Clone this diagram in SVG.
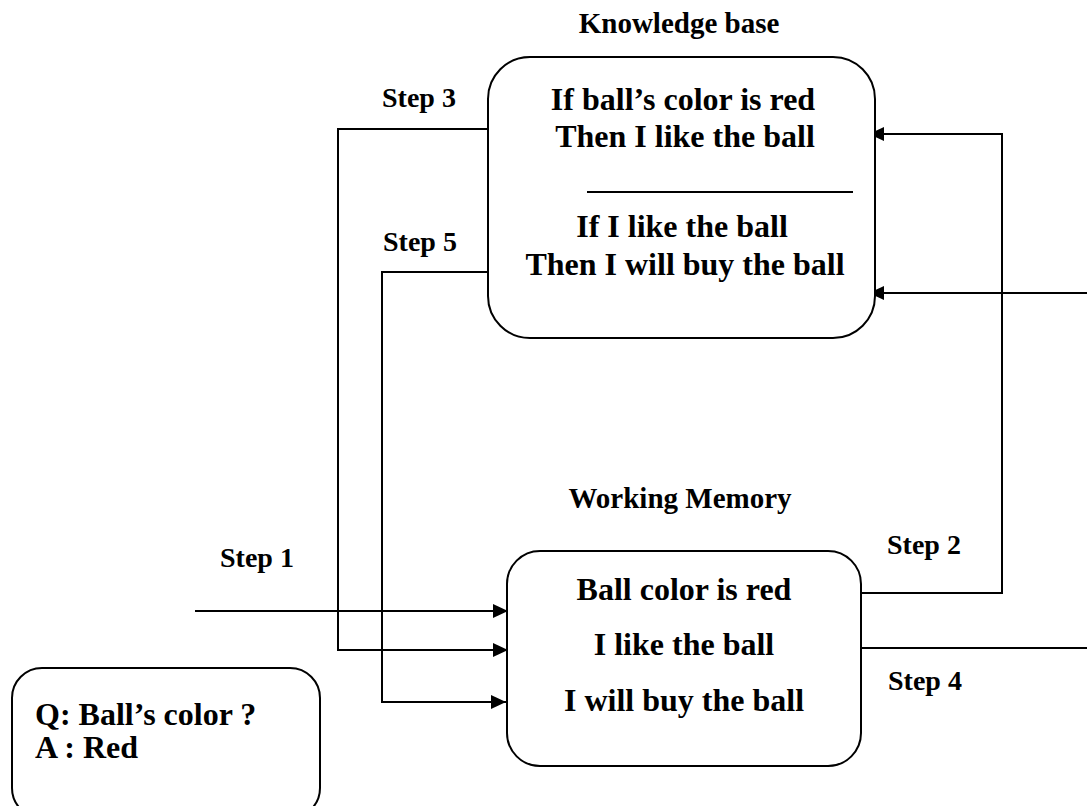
<svg xmlns="http://www.w3.org/2000/svg" width="1087" height="806" viewBox="0 0 1087 806">
<style>
text{font-family:"Liberation Serif","Times New Roman",serif;font-weight:bold;fill:#000}
.t{font-size:32px;text-anchor:middle}
.h{font-size:29px;text-anchor:middle}
.s{font-size:28px}
.q{font-size:32px}
.box{fill:#fff;stroke:#000;stroke-width:2}
.ln{fill:none;stroke:#000;stroke-width:2}
</style>
<defs>
<marker id="ah" markerWidth="16" markerHeight="14" refX="15" refY="7" orient="auto" markerUnits="userSpaceOnUse">
<path d="M0,0 L15,7 L0,14 Z" fill="#000"/>
</marker>
</defs>
<rect width="1087" height="806" fill="#fff"/>
<g id="connectors">
<polyline class="ln" points="488,129 338,129 338,650 508,650" marker-end="url(#ah)"/>
<polyline class="ln" points="488,272 382,272 382,702 506,702" marker-end="url(#ah)"/>
<line class="ln" x1="195" y1="611" x2="508" y2="611" marker-end="url(#ah)"/>
<polyline class="ln" points="861,593 1002,593 1002,134 869,134" marker-end="url(#ah)"/>
<polyline class="ln" points="861,648 1087,648"/>
<line class="ln" x1="1087" y1="293" x2="869" y2="293" marker-end="url(#ah)"/>
</g>
<g id="knowledge-base">
<text class="h" x="679" y="33">Knowledge base</text>
<rect class="box" x="488" y="57" width="387" height="281" rx="42" ry="42"/>
<text class="t" x="683" y="110">If ball’s color is red</text>
<text class="t" x="685" y="147">Then I like the ball</text>
<line class="ln" x1="587" y1="192" x2="853" y2="192"/>
<text class="t" x="682" y="237">If I like the ball</text>
<text class="t" x="685" y="275">Then I will buy the ball</text>
</g>
<g id="working-memory">
<text class="h" x="680" y="508">Working Memory</text>
<rect class="box" x="507" y="551" width="354" height="215" rx="33" ry="33"/>
<text class="t" x="684" y="600">Ball color is red</text>
<text class="t" x="684" y="655">I like the ball</text>
<text class="t" x="684" y="711">I will buy the ball</text>
</g>
<g id="qa">
<rect class="box" x="12" y="668" width="308" height="150" rx="30" ry="30"/>
<text class="q" x="35" y="725">Q: Ball’s color ?</text>
<text class="q" x="35" y="758">A : Red</text>
</g>
<g id="labels">
<text class="s" x="382" y="107">Step 3</text>
<text class="s" x="383" y="251">Step 5</text>
<text class="s" x="220" y="567">Step 1</text>
<text class="s" x="887" y="554">Step 2</text>
<text class="s" x="888" y="690">Step 4</text>
</g>
</svg>
